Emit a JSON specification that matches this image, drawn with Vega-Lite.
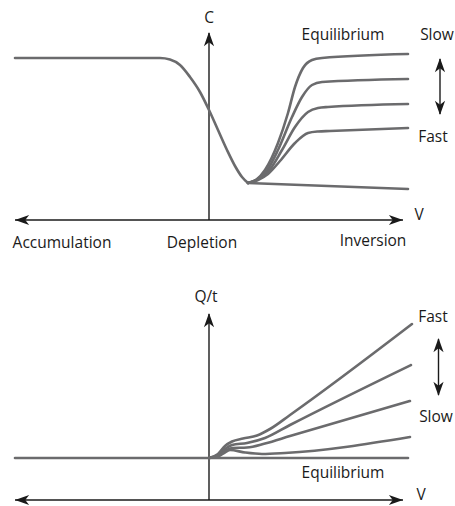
{
  "$schema": "https://vega.github.io/schema/vega-lite/v6.json",
  "width": 455,
  "height": 506,
  "autosize": {"type": "fit", "contains": "padding"},
  "padding": 0,
  "background": "white",
  "config": {"view": {"stroke": null}},
  "datasets": {
    "curves": [
      {"s": "desc", "x": 15, "y": 58}, {"s": "desc", "x": 160, "y": 58}, {"s": "desc", "x": 170, "y": 59.5}, {"s": "desc", "x": 180, "y": 65}, {"s": "desc", "x": 190, "y": 77}, {"s": "desc", "x": 200, "y": 92}, {"s": "desc", "x": 209, "y": 110}, {"s": "desc", "x": 218, "y": 130}, {"s": "desc", "x": 227, "y": 150}, {"s": "desc", "x": 235, "y": 166}, {"s": "desc", "x": 242, "y": 177}, {"s": "desc", "x": 248, "y": 183},
      {"s": "c1", "x": 248, "y": 183}, {"s": "c1", "x": 256, "y": 180}, {"s": "c1", "x": 265, "y": 170}, {"s": "c1", "x": 278, "y": 143}, {"s": "c1", "x": 288, "y": 113}, {"s": "c1", "x": 295, "y": 87}, {"s": "c1", "x": 303, "y": 68}, {"s": "c1", "x": 312, "y": 60}, {"s": "c1", "x": 322, "y": 58}, {"s": "c1", "x": 408, "y": 54},
      {"s": "c2", "x": 248, "y": 183}, {"s": "c2", "x": 256, "y": 180}, {"s": "c2", "x": 266, "y": 172}, {"s": "c2", "x": 278, "y": 150}, {"s": "c2", "x": 292, "y": 117}, {"s": "c2", "x": 302, "y": 97}, {"s": "c2", "x": 312, "y": 85}, {"s": "c2", "x": 322, "y": 82}, {"s": "c2", "x": 408, "y": 79},
      {"s": "c3", "x": 248, "y": 183}, {"s": "c3", "x": 257, "y": 180}, {"s": "c3", "x": 268, "y": 172}, {"s": "c3", "x": 282, "y": 150}, {"s": "c3", "x": 295, "y": 127}, {"s": "c3", "x": 308, "y": 112}, {"s": "c3", "x": 318, "y": 108}, {"s": "c3", "x": 328, "y": 107}, {"s": "c3", "x": 408, "y": 104},
      {"s": "c4", "x": 248, "y": 183}, {"s": "c4", "x": 258, "y": 180}, {"s": "c4", "x": 268, "y": 174}, {"s": "c4", "x": 280, "y": 161}, {"s": "c4", "x": 295, "y": 143}, {"s": "c4", "x": 308, "y": 133}, {"s": "c4", "x": 318, "y": 131.5}, {"s": "c4", "x": 330, "y": 131}, {"s": "c4", "x": 408, "y": 128},
      {"s": "c5", "x": 248, "y": 183}, {"s": "c5", "x": 408, "y": 189},
      {"s": "b0", "x": 15, "y": 458}, {"s": "b0", "x": 408, "y": 458},
      {"s": "b1", "x": 209, "y": 458}, {"s": "b1", "x": 218, "y": 454}, {"s": "b1", "x": 225, "y": 446}, {"s": "b1", "x": 232, "y": 441.5}, {"s": "b1", "x": 243, "y": 438.5}, {"s": "b1", "x": 257, "y": 435.5}, {"s": "b1", "x": 270, "y": 429}, {"s": "b1", "x": 290, "y": 415}, {"s": "b1", "x": 412, "y": 324},
      {"s": "b2", "x": 209, "y": 458}, {"s": "b2", "x": 218, "y": 455}, {"s": "b2", "x": 225, "y": 449}, {"s": "b2", "x": 232, "y": 445}, {"s": "b2", "x": 247, "y": 443}, {"s": "b2", "x": 265, "y": 438}, {"s": "b2", "x": 290, "y": 425}, {"s": "b2", "x": 411, "y": 365},
      {"s": "b3", "x": 209, "y": 458}, {"s": "b3", "x": 218, "y": 456}, {"s": "b3", "x": 225, "y": 451}, {"s": "b3", "x": 232, "y": 448}, {"s": "b3", "x": 247, "y": 447.5}, {"s": "b3", "x": 265, "y": 443.5}, {"s": "b3", "x": 290, "y": 436}, {"s": "b3", "x": 410, "y": 401},
      {"s": "b4", "x": 209, "y": 458}, {"s": "b4", "x": 218, "y": 456.5}, {"s": "b4", "x": 224, "y": 453}, {"s": "b4", "x": 230, "y": 450}, {"s": "b4", "x": 245, "y": 452.5}, {"s": "b4", "x": 262, "y": 454}, {"s": "b4", "x": 285, "y": 453}, {"s": "b4", "x": 410, "y": 437}
    ],
    "axes": [
      {"x": 15, "y": 220, "x2": 403, "y2": 220},
      {"x": 209, "y": 220, "x2": 209, "y2": 33},
      {"x": 440, "y": 59, "x2": 440, "y2": 114},
      {"x": 15, "y": 500, "x2": 403, "y2": 500},
      {"x": 209, "y": 500, "x2": 209, "y2": 314},
      {"x": 438.5, "y": 339, "x2": 438.5, "y2": 395}
    ],
    "arrows": [
      {"x": 15, "y": 220, "dir": "left"},
      {"x": 403, "y": 220, "dir": "right"},
      {"x": 209, "y": 32, "dir": "up"},
      {"x": 440, "y": 58, "dir": "up"},
      {"x": 440, "y": 115, "dir": "down"},
      {"x": 15, "y": 500, "dir": "left"},
      {"x": 403, "y": 500, "dir": "right"},
      {"x": 209, "y": 313, "dir": "up"},
      {"x": 438.5, "y": 338, "dir": "up"},
      {"x": 438.5, "y": 396, "dir": "down"}
    ],
    "labels": [
      {"x": 209, "y": 23, "t": "C"},
      {"x": 419, "y": 220, "t": "V"},
      {"x": 62, "y": 248, "t": "Accumulation"},
      {"x": 202, "y": 248, "t": "Depletion"},
      {"x": 373, "y": 246, "t": "Inversion"},
      {"x": 343, "y": 39.5, "t": "Equilibrium"},
      {"x": 437, "y": 39.5, "t": "Slow"},
      {"x": 433, "y": 141.5, "t": "Fast"},
      {"x": 206, "y": 301.5, "t": "Q/t"},
      {"x": 433, "y": 321.5, "t": "Fast"},
      {"x": 436, "y": 421.5, "t": "Slow"},
      {"x": 343, "y": 478, "t": "Equilibrium"},
      {"x": 421, "y": 500, "t": "V"}
    ]
  },
  "layer": [
    {
      "data": {"name": "axes"},
      "mark": {"type": "rule", "color": "#1a1a1a", "strokeWidth": 1.4},
      "encoding": {
        "x": {"field": "x", "type": "quantitative", "scale": {"domain": [0, 455]}, "axis": null},
        "y": {"field": "y", "type": "quantitative", "scale": {"domain": [0, 506], "reverse": true}, "axis": null},
        "x2": {"field": "x2"},
        "y2": {"field": "y2"}
      }
    },
    {
      "data": {"name": "curves"},
      "mark": {"type": "line", "color": "#6b6b6d", "strokeWidth": 2.6, "interpolate": "monotone", "strokeCap": "round"},
      "encoding": {
        "x": {"field": "x", "type": "quantitative", "scale": {"domain": [0, 455]}, "axis": null},
        "y": {"field": "y", "type": "quantitative", "scale": {"domain": [0, 506], "reverse": true}, "axis": null},
        "detail": {"field": "s", "type": "nominal"},
        "order": {"field": "x", "type": "quantitative"}
      }
    },
    {
      "data": {"name": "arrows"},
      "mark": {"type": "point", "filled": true, "color": "#1a1a1a", "opacity": 1, "size": 200},
      "encoding": {
        "x": {"field": "x", "type": "quantitative", "scale": {"domain": [0, 455]}, "axis": null},
        "y": {"field": "y", "type": "quantitative", "scale": {"domain": [0, 506], "reverse": true}, "axis": null},
        "shape": {
          "field": "dir", "type": "nominal", "legend": null,
          "scale": {
            "domain": ["left", "right", "up", "down"],
            "range": [
              "M0,0 L2,-0.72 L1.45,0 L2,0.72 Z",
              "M0,0 L-2,-0.72 L-1.45,0 L-2,0.72 Z",
              "M0,0 L-0.72,2 L0,1.45 L0.72,2 Z",
              "M0,0 L-0.72,-2 L0,-1.45 L0.72,-2 Z"
            ]
          }
        }
      }
    },
    {
      "data": {"name": "labels"},
      "mark": {"type": "text", "font": "Open Sans", "fontSize": 15.5, "color": "#1a1a1a", "align": "center", "baseline": "alphabetic"},
      "encoding": {
        "x": {"field": "x", "type": "quantitative", "scale": {"domain": [0, 455]}, "axis": null},
        "y": {"field": "y", "type": "quantitative", "scale": {"domain": [0, 506], "reverse": true}, "axis": null},
        "text": {"field": "t", "type": "nominal"}
      }
    }
  ]
}
